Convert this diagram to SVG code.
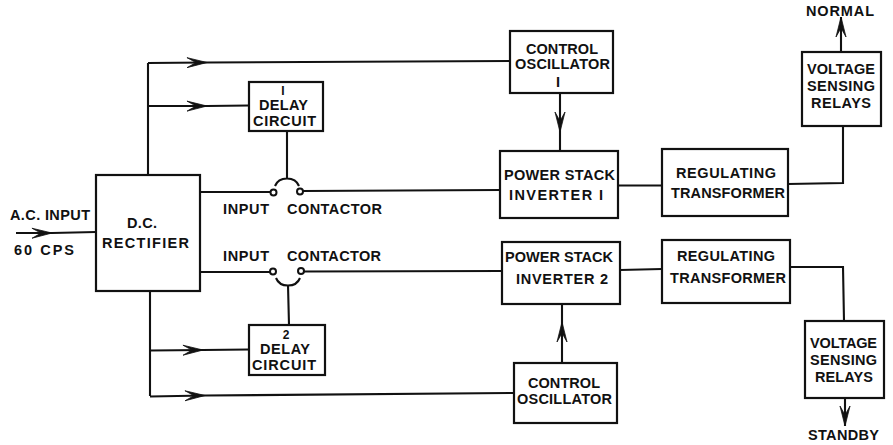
<svg xmlns="http://www.w3.org/2000/svg" width="893" height="445" viewBox="0 0 893 445">
<style>
.b{fill:#fff;stroke:#111;stroke-width:2.2}
.c{fill:none;stroke:#111;stroke-width:2.1}
.t{font-family:"Liberation Sans",Arial,sans-serif;font-weight:bold;font-size:14.5px;fill:#111;stroke:none}
.d{font-size:12px}
.o{fill:#fff;stroke:#111;stroke-width:2}
</style>
<defs>
<marker id="a" markerUnits="userSpaceOnUse" markerWidth="24" markerHeight="14" refX="20" refY="6" orient="auto" overflow="visible">
<path d="M0,1 L20,6 L0,11 L9,6Z" fill="#111" stroke="#111" stroke-width="0.8" stroke-linejoin="round"/>
</marker>
</defs>
<rect width="893" height="445" fill="#fff"/>
<g id="connectors">
<polyline class="c" points="16,233 52,233 96,232" marker-mid="url(#a)"/>
<path class="c" d="M148,175V63"/>
<polyline class="c" points="148,63 207,62.500 510,61" marker-mid="url(#a)"/>
<polyline class="c" points="148,106 207,106 249,105.500" marker-mid="url(#a)"/>
<path class="c" d="M200,192H270M303,191L500,190"/>
<path class="c" d="M275,186C279,176 295,176 299,186M287,131V178"/>
<path class="c" d="M200,272H270M304,271.500L502,271"/>
<path class="c" d="M276,278C280,288 296,288 300,278M288,285L289,325"/>
<path class="c" d="M150,291V396"/>
<polyline class="c" points="150,350.500 203,350 249,349.500" marker-mid="url(#a)"/>
<polyline class="c" points="150,396.500 205,395.500 514,393" marker-mid="url(#a)"/>
<polyline class="c" points="560,93 560,132 560,151" marker-mid="url(#a)"/>
<polyline class="c" points="562,363 562,322 562,304" marker-mid="url(#a)"/>
<path class="c" d="M618,185.500H662M788,184L843,183V126M620,270L662,269M790,267H843L844,321"/>
<polyline class="c" points="841,52 841,17" marker-end="url(#a)"/>
<polyline class="c" points="845,398 845,426" marker-end="url(#a)"/>
<circle class="o" cx="273.500" cy="192.500" r="3"/>
<circle class="o" cx="300" cy="191.500" r="3"/>
<circle class="o" cx="273" cy="271.500" r="3"/>
<circle class="o" cx="301" cy="271" r="3"/>
</g>
<g id="ac-input"><text class="t" x="10" y="220" textLength="80">A.C. INPUT</text><text class="t" x="14" y="255" textLength="60">60 CPS</text></g>
<g id="rectifier"><rect class="b" x="96" y="175" width="104" height="116"/><text class="t" x="127" y="228" textLength="30">D.C.</text><text class="t" x="102" y="248" textLength="87">RECTIFIER</text></g>
<g id="delay-1"><rect class="b" x="249" y="82" width="74" height="49"/><text class="t d" x="283" y="95" text-anchor="middle">I</text><text class="t" x="259" y="110" textLength="49">DELAY</text><text class="t" x="253" y="126" textLength="63">CIRCUIT</text></g>
<g id="delay-2"><rect class="b" x="249" y="325" width="76" height="50"/><text class="t d" x="286" y="339" text-anchor="middle">2</text><text class="t" x="260" y="354" textLength="50">DELAY</text><text class="t" x="252" y="370" textLength="64">CIRCUIT</text></g>
<g id="contactor-1"><text class="t" x="223" y="214" textLength="46">INPUT</text><text class="t" x="287" y="214" textLength="95">CONTACTOR</text></g>
<g id="contactor-2"><text class="t" x="223" y="261" textLength="46">INPUT</text><text class="t" x="287" y="261" textLength="94">CONTACTOR</text></g>
<g id="oscillator-1"><rect class="b" x="510" y="31" width="103" height="62"/><text class="t" x="526" y="54" textLength="72">CONTROL</text><text class="t" x="515" y="69" textLength="95">OSCILLATOR</text><text class="t" x="558" y="87" text-anchor="middle">I</text></g>
<g id="oscillator-2"><rect class="b" x="514" y="363" width="103" height="60"/><text class="t" x="528" y="388" textLength="72">CONTROL</text><text class="t" x="517" y="404" textLength="95">OSCILLATOR</text></g>
<g id="inverter-1"><rect class="b" x="500" y="151" width="118" height="67"/><text class="t" x="504" y="180" textLength="111">POWER STACK</text><text class="t" x="509" y="200" textLength="94">INVERTER I</text></g>
<g id="inverter-2"><rect class="b" x="502" y="242" width="118" height="62"/><text class="t" x="505" y="262" textLength="108">POWER STACK</text><text class="t" x="516" y="284" textLength="92">INVERTER 2</text></g>
<g id="transformer-1"><rect class="b" x="662" y="149" width="126" height="67"/><text class="t" x="676" y="178" textLength="100">REGULATING</text><text class="t" x="671" y="198" textLength="114">TRANSFORMER</text></g>
<g id="transformer-2"><rect class="b" x="662" y="240" width="128" height="63"/><text class="t" x="677" y="261" textLength="98">REGULATING</text><text class="t" x="670" y="283" textLength="116">TRANSFORMER</text></g>
<g id="relays-1"><rect class="b" x="802" y="52" width="79" height="74"/><text class="t" x="807" y="74" textLength="68">VOLTAGE</text><text class="t" x="807" y="91" textLength="68">SENSING</text><text class="t" x="811" y="108" textLength="60">RELAYS</text></g>
<g id="relays-2"><rect class="b" x="805" y="321" width="79" height="77"/><text class="t" x="810" y="348" textLength="67">VOLTAGE</text><text class="t" x="810" y="365" textLength="67">SENSING</text><text class="t" x="815" y="382" textLength="58">RELAYS</text></g>
<g id="normal"><text class="t" x="806" y="16" textLength="68">NORMAL</text></g>
<g id="standby"><text class="t" x="808" y="440" textLength="71">STANDBY</text></g>
</svg>
